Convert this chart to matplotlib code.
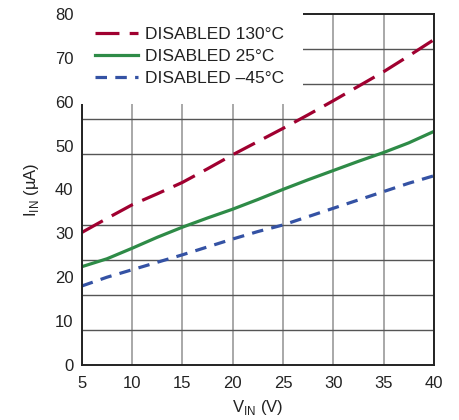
import matplotlib
matplotlib.use("Agg")
import matplotlib.pyplot as plt
import numpy as np

plt.rcParams['font.family'] = ['Liberation Sans Narrow', 'Liberation Sans', 'DejaVu Sans']
plt.rcParams['mathtext.fontset'] = 'custom'
plt.rcParams['mathtext.rm'] = 'Liberation Sans'

vin = [5, 7.5, 10, 12.5, 15, 17.5, 20, 22.5, 25, 27.5, 30, 32.5, 35, 37.5, 40]
i_130 = [30.2, 33.4, 36.5, 39.0, 41.6, 44.7, 47.9, 50.9, 53.9, 57.0, 60.2, 63.5, 66.8, 70.4, 74.1]
i_25 = [22.4, 24.2, 26.6, 29.1, 31.4, 33.5, 35.5, 37.7, 40.0, 42.2, 44.3, 46.4, 48.4, 50.6, 53.2]
i_m45 = [18.0, 20.0, 21.7, 23.4, 25.1, 26.9, 28.7, 30.4, 31.9, 33.8, 35.7, 37.6, 39.5, 41.4, 43.1]

labels = ['DISABLED 130°C', 'DISABLED 25°C', 'DISABLED –45°C']
colors = ['#A00030', '#2E8B47', '#3452A4']

fig = plt.figure(figsize=(4.6, 4.2), dpi=100)
ax = fig.add_axes([0.178, 0.131, 0.765, 0.836])

ax.plot(vin, i_130, color=colors[0], lw=2.3, dashes=(7.5, 3.2), label=labels[0])
ax.plot(vin, i_25, color=colors[1], lw=2.3, label=labels[1])
ax.plot(vin, i_m45, color=colors[2], lw=2.3, dashes=(3.6, 2.6), label=labels[2])

ax.set_xlim(5, 40)
ax.set_ylim(0, 80)
ax.set_xticks(np.arange(5, 41, 5))
ax.set_yticks(np.arange(0, 81, 10))
ax.set_yticks(np.arange(0, 81, 8), minor=True)
ax.tick_params(axis='both', which='both', length=0, labelsize=12, colors='#222222')
ax.tick_params(axis='x', pad=8)
ax.tick_params(axis='y', pad=6)
ax.grid(True, axis='x', which='major', color='#999999', lw=1.2)
ax.grid(True, axis='y', which='minor', color='#555555', lw=1.0)
ax.grid(False, axis='y', which='major')
for s in ax.spines.values():
    s.set_color('#222222')
    s.set_linewidth(1.4)

ax.set_xlabel(r'V$_{\mathregular{IN}}$ (V)', fontsize=12, color='#222222', labelpad=5)
ax.set_ylabel(r'I$_{\mathregular{IN}}$ (µA)', fontsize=12, color='#222222', labelpad=10)

leg = ax.legend(loc='upper left', frameon=True, fontsize=12.5, handlelength=2.5,
                borderaxespad=0.0, borderpad=0.75, labelspacing=0.4, handletextpad=0.4)
leg.get_frame().set_facecolor('white')
leg.get_frame().set_edgecolor('none')
leg.get_frame().set_alpha(1)
leg.get_frame().set_boxstyle('square', pad=0.3)
for t in leg.get_texts():
    t.set_color('#222222')

fig.savefig('out.png', dpi=100)
